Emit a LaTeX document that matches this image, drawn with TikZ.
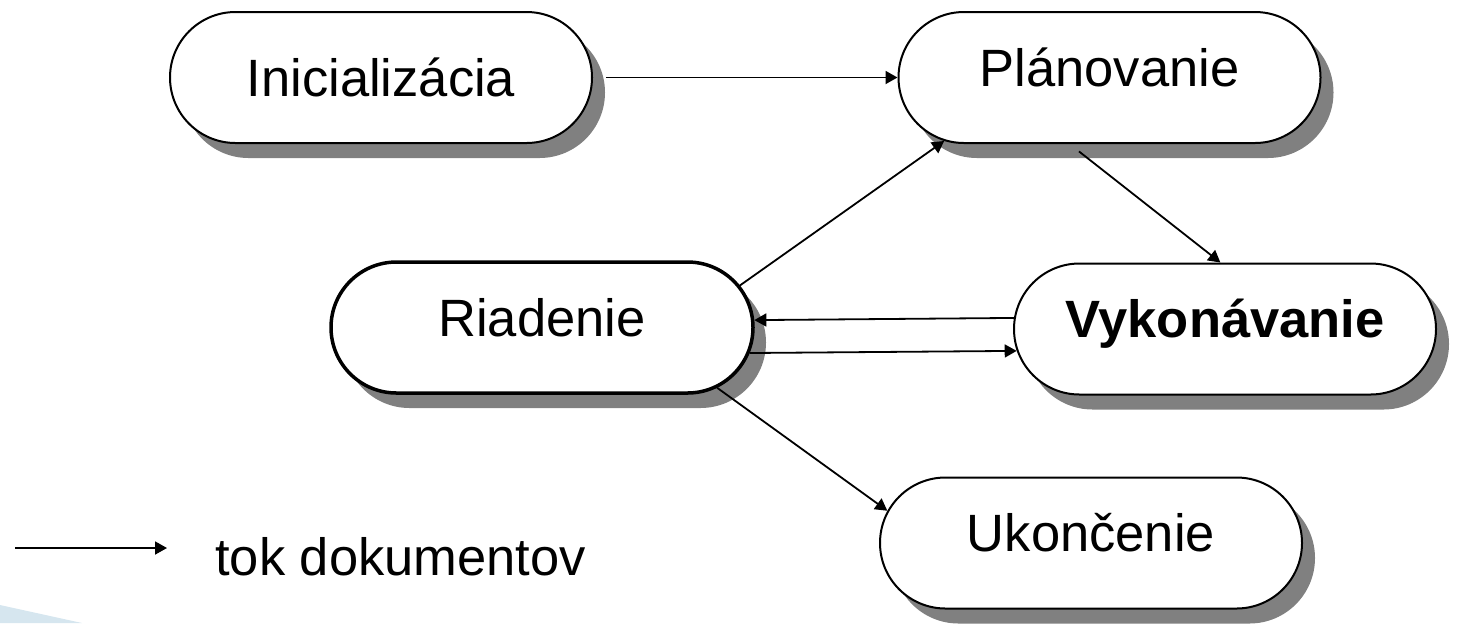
\documentclass[tikz,border=0pt]{standalone}
\usepackage{fontspec}
\setmainfont{Liberation Sans}
\usetikzlibrary{shapes.misc,shadows,arrows.meta}
\definecolor{ShadowGray}{RGB}{128,128,128}
\definecolor{SlideBlue}{RGB}{214,230,239}
\newcommand\Phase[5]{%
    \node[phase,#1] (#2) at (#3,#4) {#5};
}

\begin{document}
\begin{tikzpicture}[x=0.5pt,y=-0.5pt,
    phase/.style={rounded rectangle,draw,line width=1pt,fill=white,
        minimum width=211pt,minimum height=65.5pt,inner sep=0pt,
        text height=18.8pt,text depth=10pt,
        font=\fontsize{26.25pt}{30pt}\selectfont,
        drop shadow={shadow xshift=6.5pt,shadow yshift=-7.5pt,fill=ShadowGray,opacity=1}},
    flow/.style={line width=0.9pt,-{Triangle[length=6pt,width=6.5pt]}}]
    \useasboundingbox (0,0) rectangle (1457,623);
    \fill[SlideBlue] (0,605) -- (82,623) -- (0,623) -- cycle;
    % phases
    \Phase{text depth=0pt}{Init}{381}{77.5}{Inicializácia}
    \Phase{}{Plan}{1109.5}{77.5}{Plánovanie}
    \Phase{line width=1.75pt}{Control}{542}{327.5}{Riadenie}
    \Phase{font=\fontsize{26.25pt}{30pt}\selectfont\bfseries}{Exec}{1225}{329}{Vykonávanie}
    \Phase{}{Close}{1091}{543}{Ukončenie}
    % flows
    \draw[flow,shorten <=6.5pt] (Init.east) -- (Plan.west);
    \draw[flow] (Control.12.2) -- (Plan.201.5);
    \draw[flow,shorten <=6pt] (Plan.-121) -- (Exec.94.5);
    \draw[flow] (Exec.177.56) -- (Control.2.05);
    \draw[flow] (Control.-7.1) -- (Exec.186.6);
    \draw[flow] (Control.-19.2) -- (Close.171.8);
    % legend
    \coordinate (LegStart) at (15,548);
    \coordinate (LegEnd) at (167,548);
    \draw[flow] (LegStart) -- (LegEnd);
    \node[anchor=base west,inner sep=0pt,font=\fontsize{26.25pt}{30pt}\selectfont] (LegText) at (215,575) {tok dokumentov};
\end{tikzpicture}
\end{document}
